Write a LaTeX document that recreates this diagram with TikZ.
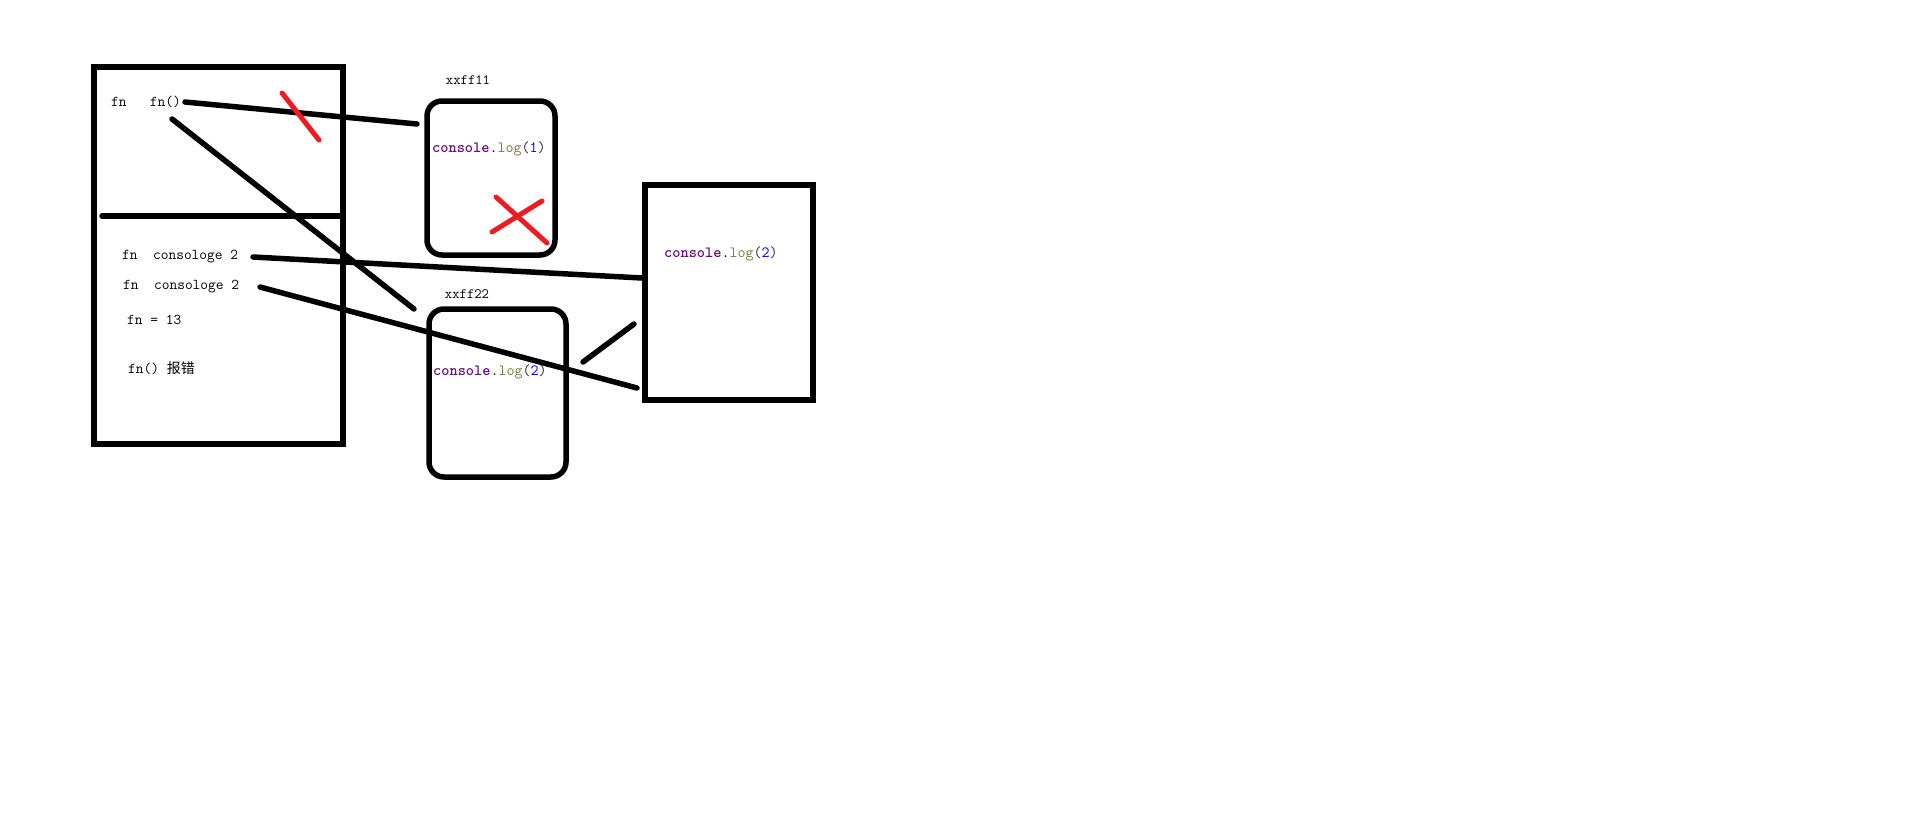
\documentclass[tikz,border=0pt]{standalone}
\usepackage{fontspec}
\newfontfamily\cjk{Noto Sans CJK SC}
\definecolor{kw}{RGB}{102,14,122}
\definecolor{fnc}{RGB}{122,122,67}
\definecolor{num}{RGB}{0,0,255}
\definecolor{par}{RGB}{40,40,40}
\definecolor{xred}{RGB}{237,28,36}
\newcommand{\clog}[1]{{\bfseries\color{kw}console}.{\color{fnc}log}{\color{par}(}{\color{num}#1}{\color{par})}}
\begin{document}
\begin{tikzpicture}[x=1pt,y=-1pt,
  frame/.style={draw, line width=5.5pt, inner sep=0pt},
  heap/.style={frame, rounded corners=15pt},
  wire/.style={line width=5.5pt, line cap=round},
  cross/.style={line width=5pt, line cap=round, draw=xred},
  txt/.style={anchor=west, inner sep=0pt, font=\ttfamily\fontsize{15}{17}\selectfont},
  lbl/.style={inner sep=0pt, font=\ttfamily\fontsize{14.3}{16}\selectfont},
  code/.style={anchor=west, inner sep=0pt, font=\ttfamily\fontsize{15.6}{18}\selectfont}]
\useasboundingbox[fill=white] (0,0) rectangle (1914,814);
% boxes
\node[frame, minimum width=249pt, minimum height=377pt] (stack) at (218.5,255.5) {};
\node[heap, minimum width=128pt, minimum height=154pt] (h1) at (491,178) {};
\node[heap, minimum width=137pt, minimum height=168pt] (h2) at (497.5,393) {};
\node[frame, minimum width=168pt, minimum height=215pt] (h3) at (729,292.5) {};
% divider
\coordinate (dvl) at (102,216);
\draw[wire] (dvl) -- ([xshift=-6pt]dvl -| stack.east);
% texts
\node[txt] (t1) at (111,102) {fn\ \ \ fn()};
\node[txt] (t2) at (122,257) {fn\ \ consologe 2};
\node[txt] (t3) at (123,287) {fn\ \ consologe 2};
\node[txt] (t4) at (127,320) {fn = 13};
\node[txt] (t5) at (128,368) {fn() {\cjk\fontsize{14}{16}\selectfont 报错}};
\node[lbl] (l1) at (468,80) {xxff11};
\node[lbl] (l2) at (467,294) {xxff22};
\node[code] (c1) at (432,149) {\clog{1}};
\node[code] (c2) at (433,372) {\clog{2}};
\node[code] (c3) at (664,254) {\clog{2}};
% connector end points
\coordinate (a1) at (185,102);
\coordinate (a2) at (417,124);
\coordinate (b1) at (172,119);
\coordinate (b2) at (414,309);
\coordinate (d1) at (253,257);
\coordinate (d2) at (642,278);
\coordinate (e1) at (260,287);
\coordinate (e2) at (637,388);
\coordinate (f1) at (583,362);
\coordinate (f2) at (634,324);
\draw[wire] (a1) -- (a2);
\draw[wire] (b1) -- (b2);
\draw[wire] (d1) -- (d2);
\draw[wire] (e1) -- (e2);
\draw[wire] (f1) -- (f2);
% red marks
\coordinate (r1) at (282,93);
\coordinate (r2) at (319,140);
\draw[cross] (r1) -- (r2);
\coordinate (x1) at (496,197);
\coordinate (x2) at (547,243);
\coordinate (x3) at (492,232);
\coordinate (x4) at (542,201);
\draw[cross] (x1) -- (x2);
\draw[cross] (x3) -- (x4);
\end{tikzpicture}
\end{document}
